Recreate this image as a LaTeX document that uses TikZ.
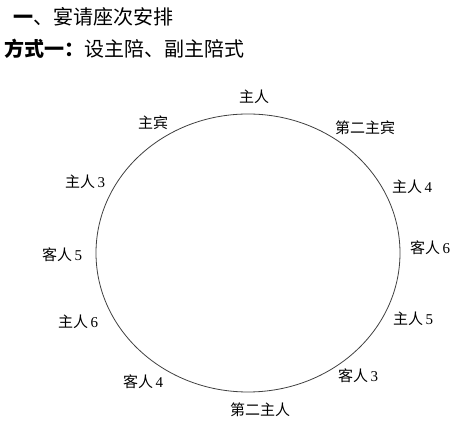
\documentclass[tikz,border=0pt]{standalone}
\usepackage{fontspec}
\usetikzlibrary{shapes.geometric}
\setmainfont{Noto Sans CJK SC}
\newfontfamily\numf{Liberation Serif}
\begin{document}
\begin{tikzpicture}[x=1pt,y=1pt,
  seat/.style={inner sep=0pt,font=\fontsize{15}{15}\selectfont},
  head/.style={inner sep=0pt,anchor=west,font=\fontsize{20}{20}\selectfont}]
\useasboundingbox (0,0) rectangle (475,436);
\node[head] (t1) at (13,419) {{\bfseries 一}、宴请座次安排};
\node[head] (t2) at (4,387) {{\bfseries 方式一：}设主陪、副主陪式};
\node[draw=black!75,line width=0.8pt,ellipse,minimum width=304pt,minimum height=278pt,inner sep=0pt] (table) at (248,183) {};
\node[seat] (s1) at (254,339) {主人};
\node[seat] (s2) at (153,313) {主宾};
\node[seat] (s3) at (365,308) {第二主宾};
\node[seat] (s4) at (85,254) {主人\,{\numf 3}};
\node[seat] (s5) at (412,249) {主人\,{\numf 4}};
\node[seat] (s6) at (62,181) {客人\,{\numf 5}};
\node[seat] (s7) at (430,188) {客人\,{\numf 6}};
\node[seat] (s8) at (78,114) {主人\,{\numf 6}};
\node[seat] (s9) at (413,117) {主人\,{\numf 5}};
\node[seat] (s10) at (143,54) {客人\,{\numf 4}};
\node[seat] (s11) at (358,60) {客人\,{\numf 3}};
\node[seat] (s12) at (260,26) {第二主人};
\end{tikzpicture}
\end{document}
